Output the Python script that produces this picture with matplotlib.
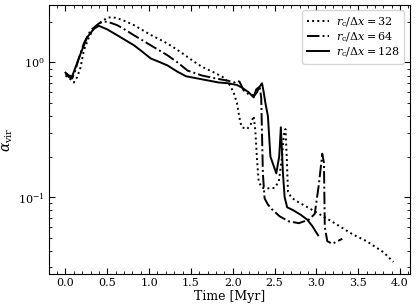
import matplotlib
matplotlib.use("Agg")
import matplotlib.pyplot as plt
from matplotlib.ticker import MultipleLocator

plt.rcParams["font.family"] = "DejaVu Serif"
plt.rcParams["mathtext.fontset"] = "dejavuserif"

# r_c/dx = 32 (dotted)
t32 = [0.0, 0.05, 0.1, 0.14, 0.18, 0.22, 0.28, 0.34, 0.42, 0.5, 0.56, 0.62, 0.72, 0.82,
       0.92, 1.02, 1.12, 1.22, 1.33, 1.44, 1.53, 1.63, 1.78, 1.88, 1.93, 1.97, 2.01,
       2.05, 2.07, 2.09, 2.11, 2.17, 2.21, 2.23, 2.25, 2.27, 2.29, 2.31, 2.35, 2.42,
       2.5, 2.55, 2.59, 2.61, 2.63, 2.645, 2.66, 2.7, 2.78, 2.85, 3.0, 3.2, 3.43, 3.6,
       3.8, 3.92]
a32 = [0.80, 0.76, 0.71, 0.78, 0.92, 1.23, 1.54, 1.79, 1.99, 2.15, 2.17, 2.13, 2.02,
       1.89, 1.74, 1.60, 1.49, 1.38, 1.25, 1.12, 1.02, 0.93, 0.84, 0.78, 0.73, 0.67,
       0.60, 0.50, 0.42, 0.36, 0.33, 0.32, 0.34, 0.37, 0.40, 0.31, 0.19, 0.13, 0.117,
       0.116, 0.117, 0.13, 0.2, 0.29, 0.32, 0.2, 0.11, 0.099, 0.092, 0.087, 0.077,
       0.065, 0.053, 0.047, 0.039, 0.033]

# r_c/dx = 64 (dash-dot)
t64 = [0.0, 0.04, 0.08, 0.12, 0.15, 0.22, 0.3, 0.4, 0.46, 0.54, 0.62, 0.72, 0.82, 0.92,
       1.02, 1.12, 1.22, 1.34, 1.46, 1.63, 1.8, 1.95, 2.02, 2.05, 2.08, 2.13, 2.19,
       2.26, 2.29, 2.32, 2.34, 2.36, 2.38, 2.42, 2.47, 2.56, 2.67, 2.79, 2.91, 2.98,
       3.03, 3.07, 3.09, 3.1, 3.13, 3.19, 3.31]
a64 = [0.83, 0.78, 0.76, 0.88, 1.03, 1.39, 1.73, 1.95, 2.02, 1.97, 1.89, 1.74, 1.59,
       1.46, 1.34, 1.23, 1.13, 1.00, 0.87, 0.80, 0.76, 0.73, 0.71, 0.73, 0.72, 0.62,
       0.58, 0.57, 0.60, 0.67, 0.55, 0.15, 0.098, 0.088, 0.081, 0.072, 0.066, 0.064,
       0.068, 0.075, 0.125, 0.21, 0.18, 0.06, 0.047, 0.045, 0.049]

# r_c/dx = 128 (solid)
t128 = [0.0, 0.04, 0.08, 0.12, 0.18, 0.26, 0.34, 0.4, 0.5, 0.62, 0.72, 0.82, 0.92,
        1.02, 1.12, 1.22, 1.33, 1.44, 1.63, 1.83, 1.95, 2.05, 2.11, 2.19, 2.25, 2.28,
        2.32, 2.35, 2.37, 2.39, 2.42, 2.45, 2.52, 2.555, 2.575, 2.6, 2.62, 2.65, 2.72,
        2.81, 2.89, 2.95, 3.02]
a128 = [0.84, 0.80, 0.79, 0.92, 1.16, 1.54, 1.78, 1.87, 1.76, 1.59, 1.46, 1.34, 1.20,
        1.07, 1.01, 0.95, 0.86, 0.79, 0.75, 0.71, 0.70, 0.68, 0.65, 0.60, 0.55, 0.63,
        0.66, 0.70, 0.60, 0.50, 0.40, 0.20, 0.15, 0.2, 0.33, 0.15, 0.1, 0.084, 0.08,
        0.074, 0.068, 0.061, 0.052]

fig, ax = plt.subplots(figsize=(4.16, 3.08), dpi=100)
fig.subplots_adjust(left=0.118, right=0.985, top=0.984, bottom=0.11)

ax.plot(t32, a32, color="black", linestyle=":", lw=1.4, label=r"$r_{\rm c}/\Delta x = 32$")
ax.plot(t64, a64, color="black", linestyle="-.", lw=1.4, label=r"$r_{\rm c}/\Delta x = 64$")
ax.plot(t128, a128, color="black", linestyle="-", lw=1.4, label=r"$r_{\rm c}/\Delta x = 128$")

ax.set_yscale("log")
ax.xaxis.set_major_locator(MultipleLocator(0.5))
ax.xaxis.set_minor_locator(MultipleLocator(0.1))
ax.tick_params(which="both", direction="in", top=True, right=True, labelsize=8)
ax.tick_params(which="major", length=4, pad=3)
ax.tick_params(which="minor", length=2)

ax.set_xlabel("Time [Myr]", fontsize=9, labelpad=1)
ax.set_ylabel(r"$\alpha_{\rm vir}$", fontsize=10)
ax.yaxis.set_label_coords(-0.095, 0.5)
ax.legend(loc="upper right", fontsize=8, handlelength=2.0, borderpad=0.4,
          labelspacing=0.15, handletextpad=0.6)

fig.savefig("out.png")
